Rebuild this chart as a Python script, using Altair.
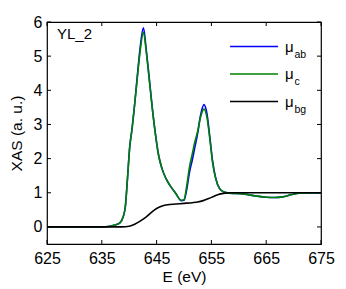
import altair as alt
import pandas as pd

# ---- data ----
energy = [625, 635, 636.5, 637.5, 638.3, 638.9, 639.3, 639.7, 640.1, 640.5, 641.0, 641.5,
          642.0, 642.6, 643.1, 643.6, 644.2, 644.8, 645.3, 646.0, 646.7, 647.5, 648.5,
          649.5, 650.0, 650.5, 651.0, 651.5, 652.0, 652.5, 653.0, 653.65, 654.2, 654.7,
          655.2, 655.8, 656.5, 657.3, 658.2, 659.5, 661, 663, 665, 666.5, 668, 669.5, 671, 675]
mu_ab = [0, 0, 0.02, 0.06, 0.12, 0.3, 0.6, 1.45, 2.35, 2.85, 3.6, 4.45,
         5.25, 5.83, 5.2, 4.45, 3.5, 2.7, 2.15, 1.7, 1.42, 1.2, 0.98,
         0.77, 0.78, 1.1, 1.6, 1.95, 2.35, 2.75, 3.25, 3.58, 3.3, 2.65,
         1.95, 1.42, 1.12, 1.02, 0.99, 0.98, 0.96, 0.91, 0.87, 0.86, 0.88, 0.94, 0.99, 1.0]
mu_c = [0, 0, 0.02, 0.06, 0.12, 0.3, 0.6, 1.45, 2.35, 2.85, 3.6, 4.4,
        5.15, 5.70, 5.15, 4.4, 3.5, 2.7, 2.15, 1.7, 1.42, 1.2, 0.98,
        0.78, 0.8, 1.2, 1.75, 2.13, 2.5, 2.8, 3.2, 3.45, 3.2, 2.6,
        1.9, 1.4, 1.12, 1.02, 0.99, 0.98, 0.96, 0.91, 0.87, 0.86, 0.88, 0.94, 0.99, 1.0]
energy_bg = [625, 638, 639.3, 640, 641, 642, 643, 644, 645, 646, 647, 648.5, 650, 651.5,
             652.5, 653.5, 654.5, 655.5, 656.5, 657.5, 658.5, 675]
mu_bg = [0, 0, 0.005, 0.02, 0.08, 0.17, 0.28, 0.42, 0.54, 0.61, 0.65, 0.67, 0.69, 0.71,
         0.73, 0.77, 0.83, 0.9, 0.96, 0.99, 1.0, 1.0]

series_names = ["μab", "μc", "μbg"]
series_colors = ["#0000ff", "#008000", "#000000"]
legend_main = ["μ", "μ", "μ"]
legend_sub = ["ab", "c", "bg"]
x_ticks = [625, 635, 645, 655, 665, 675]
y_ticks = [0, 1, 2, 3, 4, 5, 6]
sample_label = "YL_2"

W, H = 274, 222
FONT = "Liberation Sans"

rows = []
for e, a, c in zip(energy, mu_ab, mu_c):
    rows.append({"E": e, "v": a, "s": series_names[0], "o": 0})
    rows.append({"E": e, "v": c, "s": series_names[1], "o": 1})
for e, b in zip(energy_bg, mu_bg):
    rows.append({"E": e, "v": b, "s": series_names[2], "o": 2})
df = pd.DataFrame(rows)

xs = alt.Scale(domain=[625, 675], nice=False, zero=False)
ys = alt.Scale(domain=[-0.5, 6], nice=False, zero=False)
x_axis = alt.Axis(values=x_ticks, title="E (eV)", labelPadding=6, titlePadding=3,
                  labelFlush=False, labelOverlap=False)
y_axis = alt.Axis(values=y_ticks, title="XAS (a. u.)", labelPadding=5, titlePadding=9,
                  labelFlush=False, labelOverlap=False)

lines = alt.Chart(df).mark_line(strokeWidth=1.6, interpolate="monotone").encode(
    x=alt.X("E:Q", scale=xs, axis=x_axis, title="E (eV)"),
    y=alt.Y("v:Q", scale=ys, axis=y_axis, title="XAS (a. u.)"),
    color=alt.Color("s:N", scale=alt.Scale(domain=series_names, range=series_colors), legend=None),
    detail="s:N",
    order="o:Q",
)

xt = pd.DataFrame({"x": x_ticks})
yt = pd.DataFrame({"y": y_ticks})
tick_bot = alt.Chart(xt).mark_rule(color="black").encode(
    x=alt.X("x:Q", scale=xs, axis=x_axis, title="E (eV)"), y=alt.value(H), y2=alt.value(H - 4))
tick_top = alt.Chart(xt).mark_rule(color="black").encode(
    x=alt.X("x:Q", scale=xs, axis=x_axis, title="E (eV)"), y=alt.value(0), y2=alt.value(4))
tick_l = alt.Chart(yt).mark_rule(color="black").encode(
    y=alt.Y("y:Q", scale=ys, axis=y_axis, title="XAS (a. u.)"), x=alt.value(0), x2=alt.value(4))
tick_r = alt.Chart(yt).mark_rule(color="black").encode(
    y=alt.Y("y:Q", scale=ys, axis=y_axis, title="XAS (a. u.)"), x=alt.value(W), x2=alt.value(W - 4))

label = alt.Chart(pd.DataFrame({"t": [sample_label]})).mark_text(
    align="left", baseline="alphabetic", font=FONT, fontSize=15, color="black"
).encode(x=alt.value(10), y=alt.value(17), text="t:N")

legend_layers = []
for i in range(3):
    y0 = 24.5 + i * 27.5
    d = pd.DataFrame({"m": [legend_main[i]], "s": [legend_sub[i]]})
    legend_layers.append(alt.Chart(d).mark_rule(color=series_colors[i], strokeWidth=1.6).encode(
        x=alt.value(183), x2=alt.value(231), y=alt.value(y0)))
    legend_layers.append(alt.Chart(d).mark_text(
        align="left", baseline="alphabetic", font=FONT, fontSize=15, color="black"
    ).encode(x=alt.value(238), y=alt.value(y0 + 5), text="m:N"))
    legend_layers.append(alt.Chart(d).mark_text(
        align="left", baseline="alphabetic", font=FONT, fontSize=10.5, color="black"
    ).encode(x=alt.value(247.5), y=alt.value(y0 + 11), text="s:N"))

chart = alt.layer(lines, tick_bot, tick_top, tick_l, tick_r, label, *legend_layers).properties(
    width=W, height=H,
    autosize=alt.AutoSizeParams(type="none"),
    padding={"left": 39, "top": 14, "right": 17, "bottom": 44},
).configure_view(
    stroke="black", strokeWidth=1.2
).configure_axis(
    grid=False, ticks=False, domain=False, labelOverlap=False, labelFlush=False,
    labelFont=FONT, labelFontSize=16, labelColor="black",
    titleFont=FONT, titleFontSize=15.5, titleFontWeight="normal", titleColor="black",
)

chart.save("out.html", embed_options={"renderer": "svg", "actions": False})
